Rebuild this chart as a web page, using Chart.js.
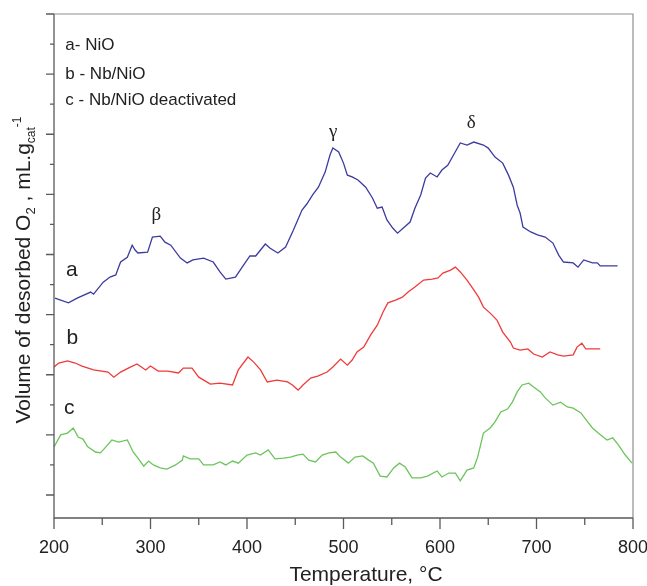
<!DOCTYPE html>
<html>
<head>
<meta charset="utf-8">
<script src="https://cdn.jsdelivr.net/npm/chart.js@4.4.0/dist/chart.umd.min.js"></script>
<style>
  html, body { margin: 0; padding: 0; background: #fff; }
  #tpd { display: block; }
</style>
</head>
<body>
<canvas id="tpd" width="647" height="586"></canvas>
<script>
// curve a - NiO
const tempA = [201, 215, 224, 238, 241, 251, 258, 264, 269, 276, 281, 284, 287, 297, 302, 310, 315, 321, 331, 338,
  344, 355, 365, 372, 378, 388, 395, 403, 409, 419, 424, 432, 440, 448, 457, 462, 468, 474, 481, 486,
  489, 495, 500, 504, 509, 515, 523, 530, 535, 540, 545, 551, 556, 562, 569, 574, 580, 585, 590, 597,
  602, 608, 614, 621, 628, 635, 645, 650, 657, 665, 671, 676, 680, 683, 686, 694, 701, 709, 717, 723,
  728, 738, 743, 749, 758, 763, 766, 784];
const volA = [6.55, 6.39, 6.55, 6.75, 6.68, 7.08, 7.25, 7.32, 7.75, 7.91, 8.31, 8.15, 8.05, 8.08, 8.58, 8.61, 8.41, 8.31, 7.88, 7.72,
  7.82, 7.88, 7.75, 7.42, 7.18, 7.25, 7.58, 7.95, 7.95, 8.35, 8.21, 8.05, 8.25, 8.81, 9.48, 9.68, 9.98, 10.24, 10.74, 11.31,
  11.54, 11.41, 11.04, 10.64, 10.58, 10.48, 10.24, 9.88, 9.54, 9.58, 9.15, 8.88, 8.71, 8.88, 9.08, 9.54, 9.98, 10.54, 10.71, 10.58,
  10.81, 10.97, 11.31, 11.71, 11.64, 11.74, 11.64, 11.54, 11.24, 11.04, 10.64, 10.24, 9.64, 9.38, 8.91, 8.75, 8.65, 8.58, 8.38, 7.98,
  7.75, 7.72, 7.58, 7.82, 7.72, 7.72, 7.62, 7.62];

// curve b - Nb/NiO
const tempB = [200, 205, 214, 222, 229, 241, 256, 262, 269, 277, 286, 295, 300, 308, 318, 329, 334, 343, 350, 362,
  372, 385, 391, 401, 407, 414, 421, 431, 442, 447, 453, 458, 466, 474, 483, 489, 497, 504, 509, 514,
  521, 528, 535, 541, 546, 554, 561, 567, 574, 583, 592, 598, 603, 611, 616, 621, 628, 635, 640, 645,
  652, 659, 665, 673, 676, 683, 691, 697, 706, 714, 722, 728, 738, 742, 747, 751, 766];
const volB = [4.26, 4.39, 4.46, 4.39, 4.29, 4.16, 4.09, 3.92, 4.09, 4.22, 4.36, 4.16, 4.29, 4.12, 4.12, 4.06, 4.22, 4.22, 3.92, 3.69,
  3.72, 3.66, 4.16, 4.59, 4.42, 4.16, 3.76, 3.82, 3.76, 3.66, 3.49, 3.66, 3.89, 3.96, 4.09, 4.26, 4.52, 4.32, 4.49, 4.76,
  4.92, 5.32, 5.65, 6.09, 6.39, 6.48, 6.58, 6.75, 6.92, 7.15, 7.18, 7.22, 7.38, 7.48, 7.58, 7.42, 7.15, 6.82, 6.58, 6.25,
  6.05, 5.82, 5.42, 5.09, 4.89, 4.82, 4.86, 4.69, 4.59, 4.76, 4.66, 4.62, 4.66, 4.92, 5.05, 4.86, 4.86];

// curve c - Nb/NiO deactivated
const tempC = [200, 207, 214, 220, 225, 230, 235, 243, 248, 251, 260, 267, 276, 282, 287, 293, 298, 303, 310, 317,
  326, 333, 334, 341, 350, 355, 365, 372, 378, 385, 391, 400, 409, 414, 422, 429, 438, 445, 452, 458,
  464, 471, 478, 485, 492, 497, 505, 512, 520, 526, 531, 538, 545, 552, 558, 564, 571, 580, 587, 597,
  602, 609, 616, 621, 628, 635, 639, 642, 645, 652, 657, 663, 670, 675, 680, 685, 692, 697, 704, 709,
  717, 725, 732, 738, 746, 753, 758, 764, 773, 779, 785, 792, 799];
const volC = [1.60, 2.00, 2.06, 2.23, 1.93, 1.86, 1.60, 1.43, 1.40, 1.50, 1.83, 1.76, 1.83, 1.43, 1.23, 0.96, 1.13, 1.00, 0.90, 0.86,
  1.00, 1.16, 1.30, 1.20, 1.20, 1.00, 1.00, 1.10, 1.00, 1.13, 1.06, 1.33, 1.40, 1.33, 1.50, 1.20, 1.23, 1.26, 1.33, 1.36,
  1.16, 1.10, 1.33, 1.40, 1.43, 1.26, 1.06, 1.26, 1.30, 1.16, 1.06, 0.63, 0.60, 0.90, 1.06, 0.93, 0.57, 0.57, 0.63, 0.80,
  0.60, 0.73, 0.73, 0.47, 0.83, 0.90, 1.26, 1.66, 2.06, 2.23, 2.43, 2.76, 2.86, 3.09, 3.43, 3.66, 3.72, 3.59, 3.43, 3.23,
  2.99, 3.09, 2.93, 2.89, 2.73, 2.43, 2.23, 2.06, 1.83, 1.90, 1.66, 1.33, 1.06];

const legendLines = ['a- NiO', 'b - Nb/NiO', 'c - Nb/NiO deactivated'];
const curveNames = ['a', 'b', 'c'];
const peakNames = ['β', 'γ', 'δ'];

const SANS = '"Liberation Sans", Arial, sans-serif';
const SERIF = '"Liberation Serif", "Times New Roman", serif';

// anchor points (data units) for the text
const legendAt = [[211.7, 14.97], [211.7, 14.0], [211.7, 13.14]];
const curveAt = [[218.4, 7.48], [219, 5.22], [215.9, 2.89]];
const peakAt = [[306, 9.31], [489.4, 12.07], [632.4, 12.37]];

function pts(xs, ys) {
  return xs.map((t, i) => ({ x: t, y: ys[i] }));
}

function drawYTitle(ctx, cx, cy) {
  const parts = [
    { t: 'Volume of desorbed O', f: 21, dy: 0 },
    { t: '2', f: 13, dy: 5 },
    { t: ' , mL.g', f: 21, dy: 0 },
    { t: 'cat', f: 12, dy: 5 },
    { t: '-1', f: 12, dy: -9 }
  ];
  let w = 0;
  parts.forEach((p) => {
    ctx.font = p.f + 'px ' + SANS;
    p.w = ctx.measureText(p.t).width;
    w += p.w;
  });
  ctx.save();
  ctx.translate(cx, cy);
  ctx.rotate(-Math.PI / 2);
  ctx.textBaseline = 'alphabetic';
  ctx.textAlign = 'left';
  let x0 = -w / 2;
  parts.forEach((p) => {
    ctx.font = p.f + 'px ' + SANS;
    ctx.fillText(p.t, x0, 8 + p.dy);
    x0 += p.w;
  });
  ctx.restore();
}

const framePlugin = {
  id: 'frame',
  afterDraw(chart) {
    const { ctx, chartArea: a } = chart;
    const x = chart.scales.x;
    const y = chart.scales.y;
    ctx.save();

    ctx.strokeStyle = '#8f8f8f';
    ctx.lineWidth = 1.2;
    ctx.beginPath();
    ctx.moveTo(a.left, a.top);
    ctx.lineTo(a.right, a.top);
    ctx.lineTo(a.right, a.bottom);
    ctx.stroke();

    ctx.strokeStyle = '#5a5a5a';
    ctx.lineWidth = 1.3;
    ctx.beginPath();
    ctx.moveTo(a.left, a.top);
    ctx.lineTo(a.left, a.bottom);
    ctx.lineTo(a.right, a.bottom);
    ctx.stroke();

    // x ticks: 100 major, 50 minor
    ctx.beginPath();
    for (let t = x.min; t <= x.max; t += 50) {
      const px = x.getPixelForValue(t);
      const len = t % 100 === 0 ? 11 : 7;
      ctx.moveTo(px, a.bottom);
      ctx.lineTo(px, a.bottom + len);
    }
    // y ticks: even major, odd minor
    for (let v = 0; v <= y.max; v++) {
      const py = y.getPixelForValue(v);
      const len = v % 2 === 0 ? 8 : 4;
      ctx.moveTo(a.left, py);
      ctx.lineTo(a.left - len, py);
    }
    ctx.stroke();

    ctx.fillStyle = '#222';
    drawYTitle(ctx, 22, 270);

    ctx.font = '21px ' + SANS;
    ctx.textAlign = 'center';
    ctx.textBaseline = 'middle';
    ctx.fillText('Temperature, °C', 366, 575);

    ctx.font = '17px ' + SANS;
    ctx.textAlign = 'left';
    legendLines.forEach((s, i) => {
      ctx.fillText(s, x.getPixelForValue(legendAt[i][0]), y.getPixelForValue(legendAt[i][1]));
    });

    ctx.font = '21px ' + SANS;
    ctx.textAlign = 'center';
    curveNames.forEach((s, i) => {
      ctx.fillText(s, x.getPixelForValue(curveAt[i][0]), y.getPixelForValue(curveAt[i][1]));
    });

    ctx.font = '19px ' + SERIF;
    peakNames.forEach((s, i) => {
      ctx.fillText(s, x.getPixelForValue(peakAt[i][0]), y.getPixelForValue(peakAt[i][1]));
    });

    ctx.restore();
  }
};

const lineStyle = { borderWidth: 1.3, pointRadius: 0, tension: 0, fill: false };

new Chart(document.getElementById('tpd').getContext('2d'), {
  type: 'line',
  data: {
    datasets: [
      Object.assign({ label: legendLines[0], data: pts(tempA, volA), borderColor: '#3b3b9f' }, lineStyle),
      Object.assign({ label: legendLines[1], data: pts(tempB, volB), borderColor: '#f03a3a' }, lineStyle),
      Object.assign({ label: legendLines[2], data: pts(tempC, volC), borderColor: '#6cc45c' }, lineStyle)
    ]
  },
  options: {
    responsive: false,
    animation: false,
    layout: { padding: { left: 54, right: 14, top: 14, bottom: 27 } },
    plugins: { legend: { display: false }, tooltip: { enabled: false } },
    scales: {
      x: {
        type: 'linear',
        min: 200,
        max: 800,
        grid: { display: false, drawTicks: false },
        border: { display: false },
        ticks: { stepSize: 100, color: '#222', padding: 19, font: { size: 18, family: SANS } },
        afterFit(scale) {
          // keep the plot box where the original has it
          scale.paddingLeft = 0;
          scale.paddingRight = 0;
          scale.paddingTop = 0;
          scale.paddingBottom = 0;
          scale.height = 41;
        }
      },
      y: {
        display: false,
        min: -0.765,
        max: 16
      }
    }
  },
  plugins: [framePlugin]
});
</script>
</body>
</html>
